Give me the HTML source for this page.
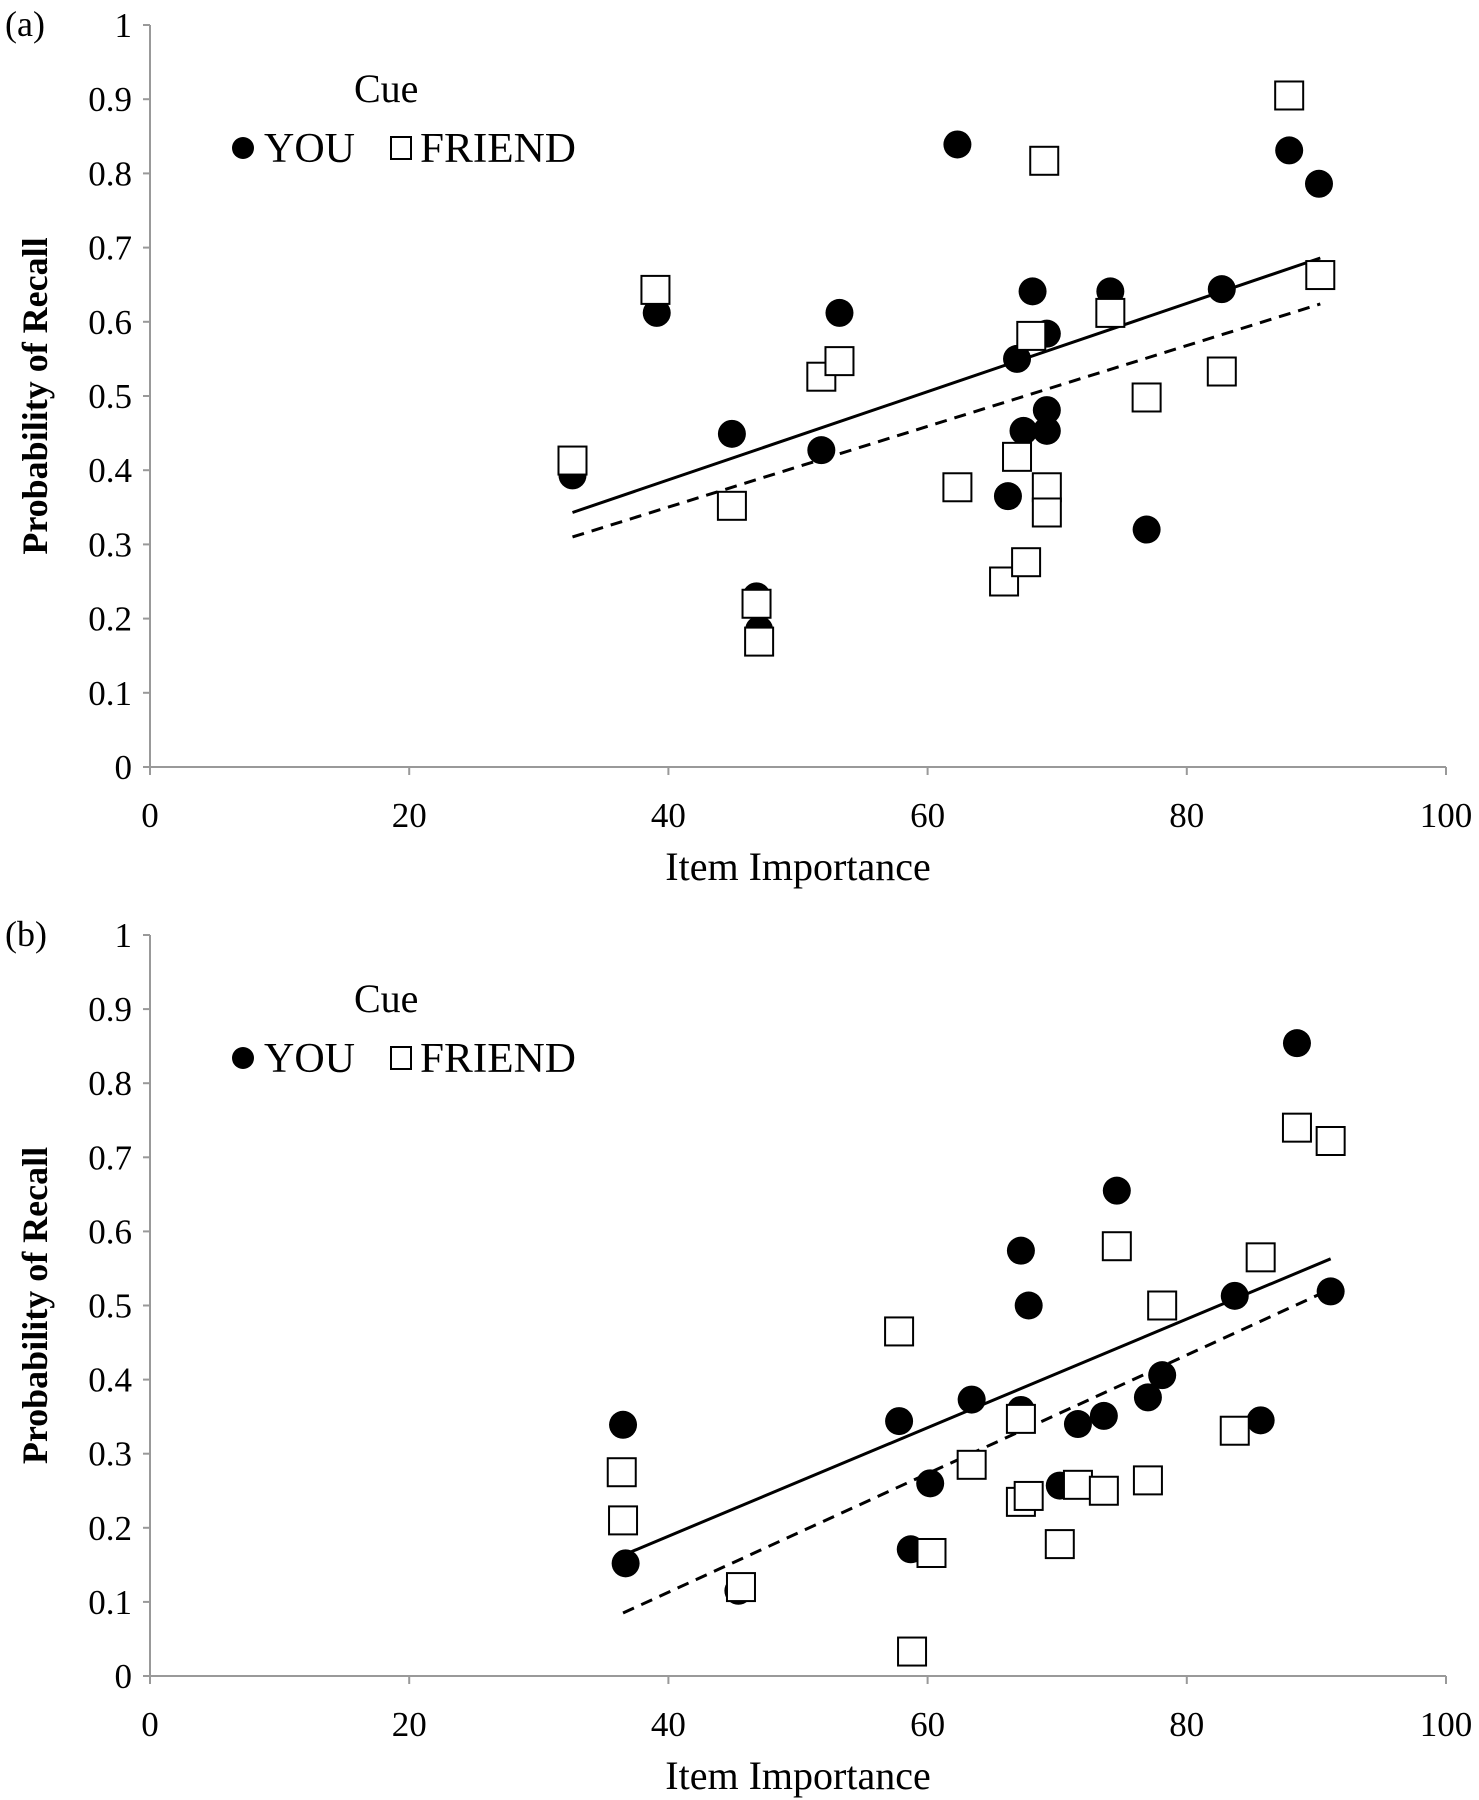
<!DOCTYPE html>
<html><head><meta charset="utf-8"><style>
html,body{margin:0;padding:0;background:#fff;}
svg{display:block;font-family:"Liberation Serif",serif;}
</style></head><body>
<svg id="chart" width="1479" height="1800" viewBox="0 0 1479 1800" xmlns="http://www.w3.org/2000/svg"></svg>
<script>
const xTicks=[0,20,40,60,80,100];
const yTicks=[0,0.1,0.2,0.3,0.4,0.5,0.6,0.7,0.8,0.9,1];
const yTickLabels=["0","0.1","0.2","0.3","0.4","0.5","0.6","0.7","0.8","0.9","1"];
const aYouX=[32.6,39.1,44.9,51.8,53.2,62.3,46.8,47.0,66.9,68.1,69.2,67.4,69.2,69.2,66.2,74.1,76.9,82.7,87.9,90.2];
const aYouY=[0.393,0.612,0.449,0.427,0.612,0.839,0.23,0.185,0.55,0.641,0.584,0.453,0.481,0.453,0.365,0.641,0.32,0.644,0.831,0.786];
const aFriendX=[32.6,39.0,44.9,51.8,53.2,46.8,47.0,62.3,69.0,66.9,68.0,69.2,69.2,65.9,67.6,74.1,76.9,82.7,87.9,90.3];
const aFriendY=[0.413,0.643,0.352,0.526,0.547,0.22,0.169,0.377,0.817,0.418,0.581,0.377,0.343,0.25,0.276,0.612,0.498,0.533,0.905,0.663];
const aYouTrendX=[32.6,90.3], aYouTrendY=[0.343,0.686];
const aFriendTrendX=[32.6,90.3], aFriendTrendY=[0.31,0.624];
const bYouX=[36.5,36.7,57.8,58.7,60.2,63.4,67.2,67.8,67.2,70.2,71.6,73.6,74.6,77.0,78.1,83.7,85.7,88.5,91.1,45.4];
const bYouY=[0.339,0.152,0.344,0.171,0.26,0.373,0.574,0.5,0.359,0.257,0.34,0.351,0.655,0.376,0.406,0.513,0.345,0.854,0.519,0.115];
const bFriendX=[36.4,36.5,45.6,57.8,58.8,60.3,63.4,67.2,67.2,67.8,70.2,71.6,73.6,74.6,77.0,78.1,83.7,85.7,88.5,91.1];
const bFriendY=[0.275,0.21,0.12,0.465,0.033,0.166,0.285,0.347,0.235,0.243,0.178,0.258,0.25,0.58,0.264,0.5,0.331,0.565,0.74,0.722];
const bYouTrendX=[36.5,91.1], bYouTrendY=[0.163,0.563];
const bFriendTrendX=[36.5,91.1], bFriendTrendY=[0.085,0.522];

const NS="http://www.w3.org/2000/svg";
const svg=document.getElementById('chart');
function mk(tag,attrs,parent,text){const e=document.createElementNS(NS,tag);for(const k in attrs)e.setAttribute(k,attrs[k]);if(text!==undefined)e.textContent=text;parent.appendChild(e);return e;}

function panel(id,label,top,bottom,youX,youY,frX,frY,ytx,yty,ftx,fty){
  const g=mk('g',{},svg);
  
  
  const L=150,R=1446;
  const sx=v=>L+(R-L)*v/100;
  const sy=v=>bottom-(bottom-top)*v;
  const pl=mk('text',{x:5,y:top+11,'font-size':36},g,label);
  
  
  const ya=mk('line',{x1:L,y1:top,x2:L,y2:bottom,stroke:'#999','stroke-width':2},g);
  
  
  const xa=mk('line',{x1:L,y1:bottom,x2:R,y2:bottom,stroke:'#999','stroke-width':2},g);
  
  
  yTicks.forEach((t,i)=>{
    mk('line',{x1:L-7,y1:sy(t),x2:L,y2:sy(t),stroke:'#999','stroke-width':2},g);
    const tl=mk('text',{x:L-18,y:sy(t)+12,'font-size':35,'text-anchor':'end'},g,yTickLabels[i]);
    
    
  });
  xTicks.forEach(t=>{
    mk('line',{x1:sx(t),y1:bottom,x2:sx(t),y2:bottom+8,stroke:'#999','stroke-width':2},g);
    const tl=mk('text',{x:sx(t),y:bottom+60,'font-size':35,'text-anchor':'middle'},g,String(t));
    
    
  });
  const xt=mk('text',{x:798,y:bottom+113,'font-size':40,'text-anchor':'middle'},g,'Item Importance');
  
  
  const cy=(top+bottom)/2;
  const yt=mk('text',{x:47,y:cy,'font-size':36,'font-weight':'bold','text-anchor':'middle',transform:'rotate(-90 47 '+cy+')'},g,'Probability of Recall');
  
  
  const tl1=mk('line',{x1:sx(ytx[0]),y1:sy(yty[0]),x2:sx(ytx[1]),y2:sy(yty[1]),stroke:'#000','stroke-width':3},g);
  
  
  const tl2=mk('line',{x1:sx(ftx[0]),y1:sy(fty[0]),x2:sx(ftx[1]),y2:sy(fty[1]),stroke:'#000','stroke-width':3,'stroke-dasharray':'12 8'},g);
  
  
  youX.forEach((x,i)=>{
    const c=mk('circle',{cx:sx(x),cy:sy(youY[i]),r:14,fill:'#000'},g);
    
    
  });
  frX.forEach((x,i)=>{
    const r=mk('rect',{x:sx(x)-14,y:sy(frY[i])-14,width:28,height:28,fill:'#fff',stroke:'#000','stroke-width':2},g);
    
    
  });
  const lg=mk('g',{},g);
  
  
  mk('text',{x:354,y:top+77,'font-size':40},lg,'Cue');
  const ly=top+123;
  const lc=mk('circle',{cx:243,cy:ly,r:11,fill:'#000'},lg);
  
  
  const lt1=mk('text',{x:264,y:ly+14,'font-size':42},lg,'YOU');
  
  
  const ls=mk('rect',{x:391,y:ly-11,width:20,height:22,fill:'#fff',stroke:'#000','stroke-width':2},lg);
  
  
  const lt2=mk('text',{x:420,y:ly+14,'font-size':42,textLength:156,lengthAdjust:'spacingAndGlyphs'},lg,'FRIEND');
  
  
}
panel('a','(a)',25,767,aYouX,aYouY,aFriendX,aFriendY,aYouTrendX,aYouTrendY,aFriendTrendX,aFriendTrendY);
panel('b','(b)',935,1676,bYouX,bYouY,bFriendX,bFriendY,bYouTrendX,bYouTrendY,bFriendTrendX,bFriendTrendY);
</script>
</body></html>
